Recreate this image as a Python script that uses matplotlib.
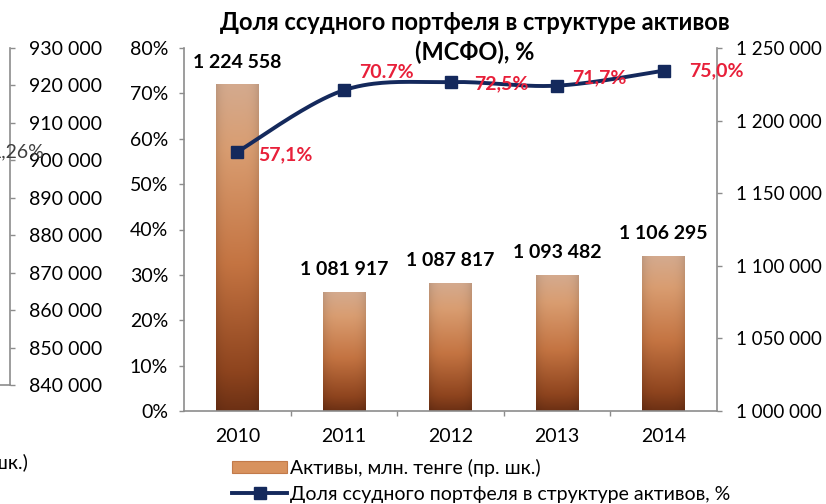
import numpy as np
import matplotlib
matplotlib.use("Agg")
import matplotlib.pyplot as plt
from matplotlib import font_manager
from matplotlib.ft2font import FT2Font
from matplotlib.colors import LinearSegmentedColormap
from matplotlib.lines import Line2D
from matplotlib.patches import Patch
from matplotlib.ticker import FuncFormatter, FixedLocator

# ---------------- data ----------------
years = ["2010", "2011", "2012", "2013", "2014"]
assets = [1224558, 1081917, 1087817, 1093482, 1106295]
loan_share = [57.1, 70.7, 72.5, 71.7, 75.0]
share_labels = ["57,1%", "70.7%", "72,5%", "71,7%", "75,0%"]
pct_ticks = [0, 10, 20, 30, 40, 50, 60, 70, 80]
asset_ticks = [1000000, 1050000, 1100000, 1150000, 1200000, 1250000]
old_ticks = [840000, 850000, 860000, 870000, 880000, 890000, 900000,
             910000, 920000, 930000]
title_lines = ["Доля ссудного портфеля в структуре активов", "(МСФО), %"]
legend_labels = ["Активы, млн. тенге (пр. шк.)",
                 "Доля ссудного портфеля в структуре активов, %"]
old_pct_text = "1,26%"
old_legend_text = "(пр. шк.)"

# ---------------- font ----------------
def has_cyrillic(name):
    try:
        path = font_manager.findfont(name, fallback_to_default=False)
        return ord("Д") in FT2Font(path).get_charmap()
    except Exception:
        return False

main_font = "Lato" if has_cyrillic("Lato") else "Open Sans"
plt.rcParams["font.family"] = [main_font, "DejaVu Sans"]

W, H = 826, 504
fig = plt.figure(figsize=(W / 100, H / 100), dpi=100)


def fx(px):
    return px / W


def fy(py):
    return 1 - py / H


GRAY = "#8c8c8c"
NAVY = "#14295c"
RED = "#e8203a"
FS = 14

# ---------------- main axes ----------------
ax = fig.add_axes([fx(184), fy(411), fx(717) - fx(184), fy(48) - fy(411)])
ax2 = ax.twinx()
ax.set_zorder(ax2.get_zorder() + 1)
ax.patch.set_visible(False)

x = np.arange(len(years))

# bars on right axis with gradient fill
bars = ax2.bar(x, np.array(assets) - 1000000, bottom=1000000, width=0.4,
               color="none", edgecolor="none")
stops = [(0.0, (108, 48, 20)), (0.12, (142, 68, 30)), (0.45, (196, 116, 66)),
         (0.8, (217, 157, 113)), (1.0, (212, 170, 142))]
cmap = LinearSegmentedColormap.from_list(
    "brown", [(p, tuple(c / 255 for c in col)) for p, col in stops])
vert = cmap(np.linspace(0, 1, 256))[:, :3]
hx = np.linspace(-1, 1, 40)
horiz = 1 - 0.10 * hx ** 4
grad = np.clip(vert[:, None, :] * horiz[None, :, None], 0, 1)
for b in bars:
    x0, y0 = b.get_x(), b.get_y()
    ax2.imshow(grad, extent=(x0, x0 + b.get_width(), y0, y0 + b.get_height()),
               origin="lower", aspect="auto", zorder=2, interpolation="bilinear")

for xi, v in zip(x, assets):
    ax2.annotate(f"{v:,}".replace(",", " "), (xi, v), xytext=(0, 16.5),
                 textcoords="offset points", ha="center", va="center",
                 fontsize=FS, fontweight="bold", color="black", zorder=5)

ax2.set_ylim(1000000, 1250000)
ax2.yaxis.set_major_locator(FixedLocator(asset_ticks))
ax2.yaxis.set_major_formatter(FuncFormatter(lambda v, p: f"{int(v):,}".replace(",", " ")))

# smoothed line (Catmull-Rom / Bezier, like Excel)
pts = np.column_stack([x, loan_share]).astype(float)
curve = []
n = len(pts)
for i in range(n - 1):
    p0 = pts[i - 1] if i > 0 else pts[i]
    p1 = pts[i]
    p2 = pts[i + 1]
    p3 = pts[i + 2] if i + 2 < n else pts[i + 1]
    c1 = p1 + (p2 - p0) / 6
    c2 = p2 - (p3 - p1) / 6
    t = np.linspace(0, 1, 40)[:, None]
    seg = ((1 - t) ** 3) * p1 + 3 * ((1 - t) ** 2) * t * c1 + 3 * (1 - t) * t ** 2 * c2 + t ** 3 * p2
    curve.append(seg)
curve = np.vstack(curve)
ax.plot(curve[:, 0], curve[:, 1] / 100, color=NAVY, lw=2.8, zorder=3,
        solid_capstyle="round")
ax.plot(x, np.array(loan_share) / 100, ls="none", marker="s", ms=8.5,
        color=NAVY, zorder=4)

label_offsets = [(15, -2), (11, 13), (17, -1), (11, 6), (18, 0)]
for xi, v, s, off in zip(x, loan_share, share_labels, label_offsets):
    ax.annotate(s, (xi, v / 100), xytext=off, textcoords="offset points",
                ha="left", va="center", fontsize=FS, fontweight="bold",
                color=RED, zorder=6)

ax.set_xlim(-0.5, len(years) - 0.5)
ax.set_ylim(0, 0.8)
ax.yaxis.set_major_locator(FixedLocator([t / 100 for t in pct_ticks]))
ax.yaxis.set_major_formatter(FuncFormatter(lambda v, p: f"{v * 100:.0f}%"))
ax.set_xticks(x)
ax.set_xticklabels(years)
ax.set_xticks(x[:-1] + 0.5, minor=True)

for a in (ax, ax2):
    for sp in a.spines.values():
        sp.set_color(GRAY)
        sp.set_linewidth(1.2)
    a.spines["top"].set_visible(False)
ax.spines["right"].set_visible(False)
ax2.spines["left"].set_visible(False)
ax2.spines["bottom"].set_visible(False)

ax.tick_params(axis="y", direction="out", length=3.5, width=1, color=GRAY,
               labelsize=FS, pad=8, labelcolor="black")
ax2.tick_params(axis="y", direction="out", length=3.5, width=1, color=GRAY,
                labelsize=13.5, pad=10, labelcolor="black")
ax.tick_params(axis="x", which="major", length=0, labelsize=FS, pad=12,
               labelcolor="black")
ax.tick_params(axis="x", which="minor", direction="out", length=3.5, width=1,
               color=GRAY)

# ---------------- leftover axis of neighbouring chart ----------------
ax3 = fig.add_axes([fx(-60), fy(385), fx(70), fy(48) - fy(385)])
ax3.patch.set_visible(False)
ax3.set_ylim(840000, 930000)
ax3.yaxis.set_major_locator(FixedLocator(old_ticks))
ax3.yaxis.set_major_formatter(FuncFormatter(lambda v, p: f"{int(v):,}".replace(",", " ")))
ax3.yaxis.tick_right()
ax3.set_xticks([])
for k in ("top", "left"):
    ax3.spines[k].set_visible(False)
for k in ("right", "bottom"):
    ax3.spines[k].set_color(GRAY)
    ax3.spines[k].set_linewidth(1.2)
ax3.tick_params(axis="y", direction="out", length=3.5, width=1, color=GRAY,
                labelsize=FS, pad=10, labelcolor="black")
fig.text(fx(44), fy(152), old_pct_text, ha="right", va="center",
         fontsize=FS, color="#404040")
fig.text(fx(28), fy(463), old_legend_text, ha="right", va="center",
         fontsize=FS, color="black")

# ---------------- title ----------------
fig.text(fx(475), fy(22), title_lines[0], ha="center", va="center",
         fontsize=17, fontweight="bold")
fig.text(fx(475), fy(52), title_lines[1], ha="center", va="center",
         fontsize=17, fontweight="bold")

# ---------------- legend ----------------
handles = [Patch(facecolor="#d8925e", edgecolor="#c27a4a", linewidth=0.8),
           Line2D([0], [0], color=NAVY, lw=2.8, marker="s", ms=8.5)]
fig.legend(handles, legend_labels, loc="upper left",
           bbox_to_anchor=(fx(232), fy(459)), frameon=False, fontsize=FS,
           handlelength=2.85, handleheight=0.55, handletextpad=0.15,
           labelspacing=0.45, borderpad=0, borderaxespad=0)

fig.savefig("out.png", dpi=100)
